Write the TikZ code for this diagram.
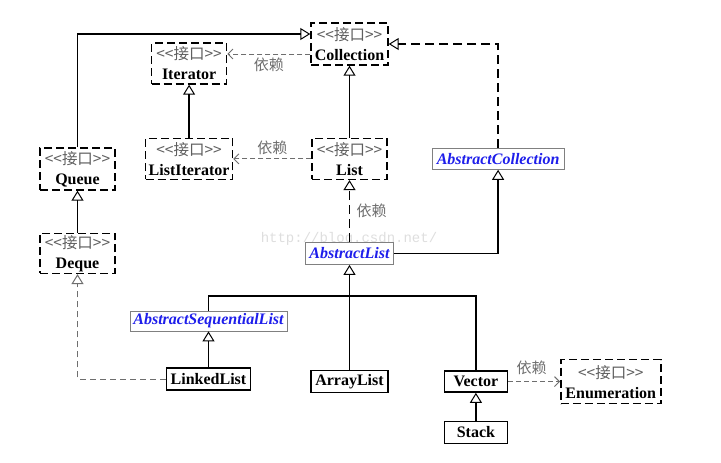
\documentclass[tikz,border=0pt]{standalone}
\usepackage{fontspec}
\setmainfont{Liberation Serif}
\setmonofont{Liberation Mono}
\newfontfamily\cjk{Noto Sans CJK SC}
\usetikzlibrary{arrows.meta,positioning}

\definecolor{absblue}{RGB}{30,30,235}
\definecolor{stereogray}{RGB}{95,95,95}
\definecolor{depgray}{RGB}{110,110,110}
\definecolor{markgray}{RGB}{222,222,222}

\newcommand{\ifacetag}{{\mdseries\cjk\fontsize{15.5}{20}\selectfont\color{stereogray}<<接口>>}}

\tikzset{
  iface/.style={draw, line width=1.4pt, dash pattern=on 8pt off 4pt, fill=white,
    align=center, inner sep=1pt, minimum height=42pt,
    font=\fontsize{16}{20}\selectfont\bfseries},
  cls/.style={draw, line width=1.4pt, fill=white, inner sep=2pt, minimum height=22pt,
    font=\fontsize{16}{18}\selectfont\bfseries},
  abscls/.style={draw=gray, line width=0.8pt, fill=white, inner sep=2pt, minimum height=21pt,
    text=absblue, font=\fontsize{16}{18}\selectfont\bfseries\itshape},
  inherit/.style={line width=1.4pt, -{Triangle[open,width=12pt,length=10pt,line width=1pt]}},
  realize/.style={inherit, dash pattern=on 9pt off 5pt},
  depend/.style={draw=depgray, line width=0.9pt, dash pattern=on 5pt off 3pt,
    -{Straight Barb[length=5pt,width=10pt]}},
  deplabel/.style={text=depgray, font=\cjk\fontsize{15}{15}\selectfont}
}

\begin{document}
\begin{tikzpicture}[x=1pt,y=-1pt]
  \useasboundingbox (0,0) rectangle (721,463);

  % watermark
  \node[text=markgray, font=\ttfamily\fontsize{14}{14}\selectfont] (mark) at (349,239) {http://blog.csdn.net/};

  % interfaces
  \node[iface, minimum width=77pt] (collection) at (349.5,44) {\ifacetag\\Collection};
  \node[iface, minimum width=75pt, minimum height=41pt] (list) [below=72pt of collection] {\ifacetag\\List};
  \node[iface, minimum width=87pt, minimum height=41pt] (listiterator) [left=78pt of list] {\ifacetag\\ListIterator};
  \node[iface, minimum width=75pt, minimum height=41pt] (iterator) [above=53pt of listiterator] {\ifacetag\\Iterator};
  \node[iface, minimum width=75pt] (queue) at (77.5,169) {\ifacetag\\Queue};
  \node[iface, minimum width=75pt, minimum height=40pt] (deque) [below=42pt of queue] {\ifacetag\\Deque};

  % abstract classes
  \node[abscls, minimum width=132pt] (abscollection) [right=44pt of list] {AbstractCollection};
  \node[abscls, minimum width=88pt, minimum height=22pt] (abslist) [below=62pt of list] {AbstractList};
  \node[abscls, minimum width=157pt, minimum height=20pt] (absseqlist) at (208.5,321) {AbstractSequentialList};

  % classes
  \node[cls, minimum width=77pt] (arraylist) [below=105pt of abslist] {ArrayList};
  \node[cls, minimum width=84pt] (linkedlist) [below=36pt of absseqlist] {LinkedList};
  \node[cls, minimum width=63pt, minimum height=21pt] (vector) [right=55pt of arraylist] {Vector};
  \node[cls, minimum width=63pt] (stack) [below=28pt of vector] {Stack};
  \node[iface, minimum width=100pt, minimum height=44pt] (enumeration) [right=52pt of vector] {\ifacetag\\Enumeration};

  \coordinate (qin) at ([yshift=10pt]collection.west);
  \coordinate (cout) at ([yshift=-10pt]collection.west);
  \coordinate (fork) at ([yshift=-31pt]abslist.south);

  \draw[inherit] (queue.north) |- (qin);
  \draw[depend] (cout) -- node[deplabel, below] {依赖} (cout -| iterator.east);
  \draw[depend] (list.west) -- node[deplabel, above] {依赖} (listiterator.east);
  \draw[inherit] (listiterator.north) -- (iterator.south);
  \draw[inherit] (list.north) -- (collection.south);
  \draw[realize] (abslist.north) -- node[deplabel, right=3pt] {依赖} (list.south);
  \draw[inherit] (abslist.east) -| (abscollection.south);
  \draw[realize] (abscollection.north) |- (collection.east);
  \draw[inherit] (deque.north) -- (queue.south);
  \draw[depend, dash pattern=on 6pt off 4pt, -{Triangle[open,width=12pt,length=10pt,line width=1pt]}]
    (linkedlist.west) -| (deque.south);
  \draw[inherit] (linkedlist.north) -- (absseqlist.south);
  \draw[inherit] (arraylist.north) -- (abslist.south);
  \draw[line width=1.4pt] (absseqlist.north) |- (fork) -| (vector.north);
  \draw[inherit] (stack.north) -- (vector.south);
  \draw[depend] (vector.east) -- node[deplabel, above=3pt, pos=0.45] {依赖} (enumeration.west);
\end{tikzpicture}
\end{document}
